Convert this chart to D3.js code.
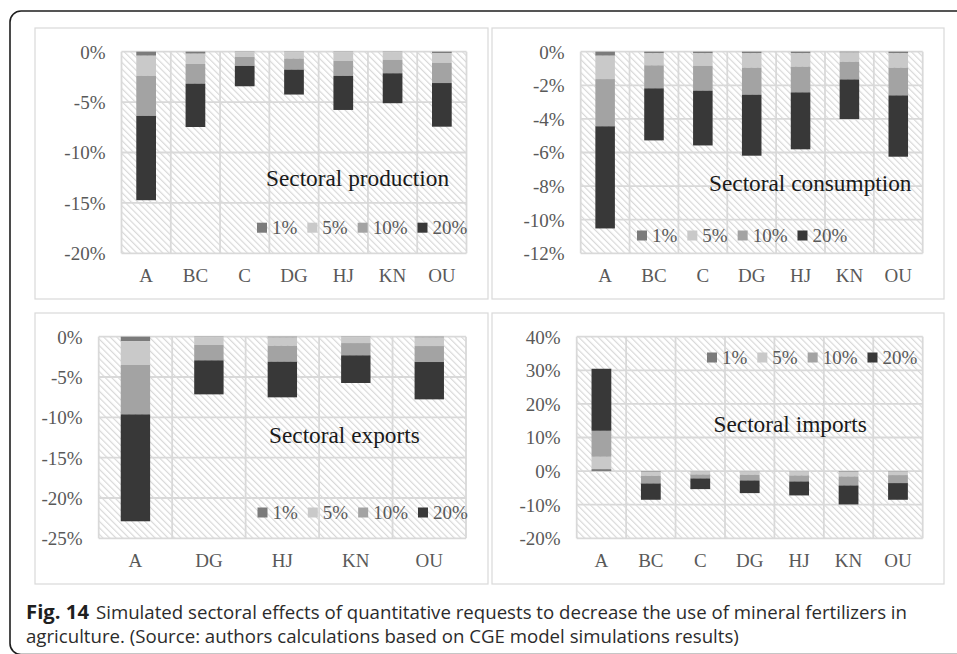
<!DOCTYPE html>
<html><head><meta charset="utf-8">
<script src="https://cdn.jsdelivr.net/npm/d3@7"></script>
<style>html,body{margin:0;padding:0;background:#fff;}svg{display:block;}</style>
</head><body>
<svg id="c" width="957" height="654"></svg>
<script>
// ---------- DATA ----------
const seriesNames = ["1%", "5%", "10%", "20%"];
const seriesColors = ["#7b7b7b", "#c9c9c9", "#a3a3a3", "#383838"];

const prodCats = ["A", "BC", "C", "DG", "HJ", "KN", "OU"];
const prod1  = [-0.40, -0.20, -0.04, -0.04, -0.04, -0.04, -0.13];
const prod5  = [-2.00, -1.02, -0.48, -0.64, -0.88, -0.78, -0.99];
const prod10 = [-3.97, -1.95, -0.89, -1.10, -1.48, -1.32, -1.99];
const prod20 = [-8.36, -4.30, -2.02, -2.47, -3.38, -2.97, -4.33];
const prodTicks = [0, -5, -10, -15, -20];

const consCats = ["A", "BC", "C", "DG", "HJ", "KN", "OU"];
const cons1  = [-0.24, -0.10, -0.10, -0.10, -0.10, -0.05, -0.10];
const cons5  = [-1.39, -0.71, -0.75, -0.85, -0.79, -0.55, -0.85];
const cons10 = [-2.81, -1.37, -1.47, -1.61, -1.53, -1.05, -1.65];
const cons20 = [-6.08, -3.10, -3.26, -3.63, -3.39, -2.36, -3.65];
const consTicks = [0, -2, -4, -6, -8, -10, -12];

const expCats = ["A", "DG", "HJ", "KN", "OU"];
const exp1  = [-0.54, -0.05, -0.10, -0.05, -0.10];
const exp5  = [-2.97, -0.98, -1.02, -0.74, -1.06];
const exp10 = [-6.12, -1.90, -1.98, -1.52, -1.98];
const exp20 = [-13.26, -4.22, -4.42, -3.43, -4.63];
const expTicks = [0, -5, -10, -15, -20, -25];

const impCats = ["A", "BC", "C", "DG", "HJ", "KN", "OU"];
const imp1  = [0.60, -0.20, -0.10, -0.10, -0.10, -0.20, -0.15];
const imp5  = [3.67, -1.19, -0.89, -0.99, -1.19, -1.39, -1.04];
const imp10 = [7.73, -2.28, -1.19, -1.69, -1.79, -2.68, -2.38];
const imp20 = [18.46, -4.86, -3.18, -3.77, -4.16, -5.65, -4.96];
const impTicks = [40, 30, 20, 10, 0, -10, -20];

const titles = ["Sectoral production", "Sectoral consumption", "Sectoral exports", "Sectoral imports"];
const captionBold = "Fig. 14";
const captionLine1 = "Simulated sectoral effects of quantitative requests to decrease the use of mineral fertilizers in";
const captionLine2 = "agriculture. (Source: authors calculations based on CGE model simulations results)";

// ---------- LAYOUT ----------
const panels = [
  {cats: prodCats, series: [prod1, prod5, prod10, prod20], ticks: prodTicks, title: titles[0],
   box: [35, 28, 453, 271], plot: [121.5, 51.7, 466.5, 253.3], titlePos: [266, 185.5], legend: [257, 227.7]},
  {cats: consCats, series: [cons1, cons5, cons10, cons20], ticks: consTicks, title: titles[1],
   box: [492, 28, 452, 271], plot: [580.7, 51.7, 922.7, 253.3], titlePos: [709, 191], legend: [637, 235.5]},
  {cats: expCats, series: [exp1, exp5, exp10, exp20], ticks: expTicks, title: titles[2],
   box: [35, 313, 453, 271], plot: [98.7, 336.7, 466, 538.3], titlePos: [269, 443], legend: [257.5, 512.5]},
  {cats: impCats, series: [imp1, imp5, imp10, imp20], ticks: impTicks, title: titles[3],
   box: [492, 313, 452, 271], plot: [576.7, 336.7, 922.7, 538.3], titlePos: [713.5, 432], legend: [707, 357.5]}
];

const svg = d3.select("#c");
const defs = svg.append("defs");
const pat = defs.append("pattern").attr("id", "hatch").attr("patternUnits", "userSpaceOnUse")
  .attr("width", 4.6).attr("height", 4.6).attr("patternTransform", "rotate(-45)");
pat.append("rect").attr("width", 4.6).attr("height", 4.6).attr("fill", "#ffffff");
pat.append("line").attr("x1", 0.6).attr("y1", 0).attr("x2", 0.6).attr("y2", 4.6)
  .attr("stroke", "#d6d6d6").attr("stroke-width", 1.1);

// outer frame
svg.append("rect").attr("x", 10).attr("y", 11).attr("width", 1000).attr("height", 643.5)
  .attr("rx", 11).attr("fill", "none").attr("stroke", "#1e1e1e").attr("stroke-width", 1.6);

const serif = "'Liberation Serif','Times New Roman',serif";

panels.forEach(p => {
  const g = svg.append("g");
  g.append("rect").attr("x", p.box[0]).attr("y", p.box[1]).attr("width", p.box[2]).attr("height", p.box[3])
    .attr("fill", "#fff").attr("stroke", "#d9d9d9").attr("stroke-width", 1.2);

  const [x0, y0, x1, y1] = p.plot;
  const x = d3.scaleBand().domain(p.cats).range([x0, x1]).padding(0);
  const y = d3.scaleLinear().domain([d3.min(p.ticks), d3.max(p.ticks)]).range([y1, y0]);

  g.append("rect").attr("x", x0).attr("y", y0).attr("width", x1 - x0).attr("height", y1 - y0)
    .attr("fill", "url(#hatch)");

  // horizontal gridlines
  g.append("g").selectAll("line").data(p.ticks).join("line")
    .attr("x1", x0).attr("x2", x1).attr("y1", d => y(d)).attr("y2", d => y(d))
    .attr("stroke", "#d9d9d9").attr("stroke-width", 1.8);
  // vertical category gridlines
  const bounds = p.cats.map(c => x(c)).concat([x1]);
  g.append("g").selectAll("line").data(bounds).join("line")
    .attr("x1", d => d).attr("x2", d => d).attr("y1", y0).attr("y2", y1)
    .attr("stroke", "#d9d9d9").attr("stroke-width", 1.8);

  // y axis labels
  const yAxis = d3.axisLeft(y).tickValues(p.ticks).tickFormat(d => d + "%").tickSize(0).tickPadding(16);
  const ya = g.append("g").attr("transform", `translate(${x0},0)`).call(yAxis);
  ya.select(".domain").remove();
  ya.selectAll("text").attr("font-family", serif).attr("font-size", 19).attr("fill", "#595959").attr("dy", "0.34em");

  // x axis labels
  const xAxis = d3.axisBottom(x).tickSize(0).tickPadding(0);
  const xa = g.append("g").attr("transform", `translate(0,${y1})`).call(xAxis);
  xa.select(".domain").remove();
  xa.selectAll("text").attr("font-family", serif).attr("font-size", 19).attr("fill", "#595959")
    .attr("y", 28.5).attr("dy", 0);

  // stacked bars
  const rows = p.cats.map((c, i) => {
    const r = {cat: c};
    seriesNames.forEach((s, k) => r[s] = p.series[k][i]);
    return r;
  });
  const stack = d3.stack().keys(seriesNames).offset(d3.stackOffsetDiverging)(rows);
  const bw = x.bandwidth() * 0.4;
  stack.forEach((layer, k) => {
    g.append("g").selectAll("rect").data(layer).join("rect")
      .attr("x", d => x(d.data.cat) + (x.bandwidth() - bw) / 2)
      .attr("width", bw)
      .attr("y", d => y(Math.max(d[0], d[1])))
      .attr("height", d => Math.abs(y(d[0]) - y(d[1])))
      .attr("fill", seriesColors[k]);
  });

  // title
  g.append("text").attr("x", p.titlePos[0]).attr("y", p.titlePos[1]).text(p.title)
    .attr("font-family", serif).attr("font-size", 23.3).attr("fill", "#1a1a1a");

  // legend
  let lx = p.legend[0];
  const ly = p.legend[1];
  seriesNames.forEach((s, k) => {
    g.append("rect").attr("x", lx).attr("y", ly - 5).attr("width", 10).attr("height", 10).attr("fill", seriesColors[k]);
    const t = g.append("text").attr("x", lx + 15).attr("y", ly).attr("dy", "0.34em").text(s)
      .attr("font-family", serif).attr("font-size", 19).attr("fill", "#595959");
    lx = lx + 15 + t.node().getComputedTextLength() + 10;
  });
});

// caption
const sans = "'Open Sans','Noto Sans',sans-serif";
svg.append("text").attr("x", 26).attr("y", 618.5).text(captionBold)
  .attr("font-family", sans).attr("font-weight", "bold").attr("font-size", 19).attr("fill", "#1f1f1f")
  .attr("textLength", 63).attr("lengthAdjust", "spacingAndGlyphs");
const c1 = svg.append("text").attr("x", 96).attr("y", 618.5).text(captionLine1)
  .attr("font-family", sans).attr("font-size", 19).attr("fill", "#2b2b2b");
const nat1 = c1.node().getComputedTextLength();
const ratio = 811 / nat1;
c1.attr("textLength", 811).attr("lengthAdjust", "spacingAndGlyphs");
const c2 = svg.append("text").attr("x", 26).attr("y", 642.5).text(captionLine2)
  .attr("font-family", sans).attr("font-size", 19).attr("fill", "#2b2b2b");
const nat2 = c2.node().getComputedTextLength();
c2.attr("textLength", nat2 * ratio).attr("lengthAdjust", "spacingAndGlyphs");
</script>
</body></html>
